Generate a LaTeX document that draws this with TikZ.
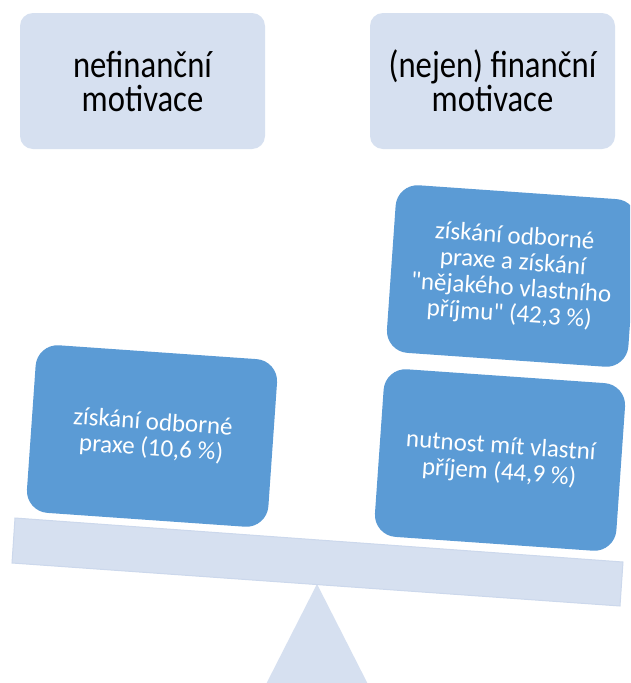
\documentclass[tikz,border=0pt]{standalone}
\usepackage{fontspec}
\setmainfont{Carlito}
\newfontfamily\topfont[FakeStretch=0.86]{Carlito}
\newfontfamily\itemfont[Ligatures=TeXOff]{Carlito}
\definecolor{darkblue}{HTML}{5B9BD5}
\definecolor{lightblue}{HTML}{D6E0F0}
\definecolor{beamedge}{HTML}{CCD8EC}
\tikzset{
  headbox/.style={fill=lightblue, rounded corners=13pt, minimum width=245pt, minimum height=136pt,
    align=center, text=black, font=\topfont\fontsize{38pt}{34pt}\selectfont, inner sep=0pt},
  itembox/.style={fill=darkblue, rounded corners=22pt, minimum width=242pt, minimum height=168pt,
    align=center, text=white, font=\itemfont\fontsize{25pt}{26pt}\selectfont, inner sep=0pt, rotate=-4},
  plate/.style={fill=lightblue, draw=beamedge, line width=1pt}
}
\begin{document}
\begin{tikzpicture}[x=1pt,y=-1pt]
\clip (0,0) rectangle (630,683);
\fill[white] (0,0) rectangle (630,683);
% fulcrum
\fill[lightblue] (317,584) -- (376,700) -- (258,700) -- cycle;
% beam
\path[plate] (15,518) -- (623,562) -- (620,606) -- (12,563) -- cycle;
% headers
\node[headbox] (h1) at (142.5,81) {nefinanční\\motivace};
\node[headbox] (h2) at (492.5,81) {(nejen) finanční\\motivace};
% items
\node[itembox] (l1) at (152,436) {získání odborné\\praxe (10,6 \%)};
\node[itembox] (r1) at (500,460) {nutnost mít vlastní\\příjem (44,9 \%)};
\node[itembox] (r2) at (512,276) {získání odborné\\praxe a získání\\"nějakého vlastního\\příjmu" (42,3 \%)};
\end{tikzpicture}
\end{document}
